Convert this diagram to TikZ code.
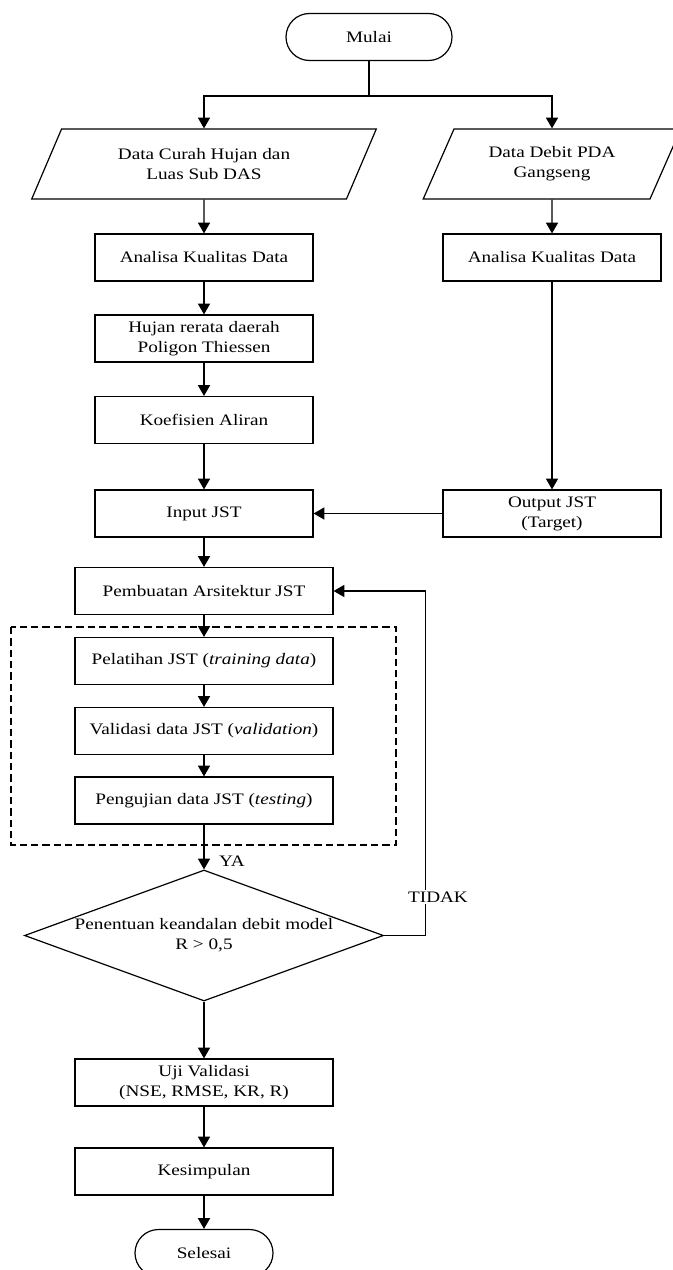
\documentclass[tikz,border=0pt]{standalone}
\usepackage{fontspec}
\setmainfont{Liberation Serif}[FakeStretch=1.2]
\usetikzlibrary{shapes.geometric,arrows.meta}

\begin{document}
\begin{tikzpicture}
  [x=0.75pt,y=-0.75pt,line width=0.9pt,>={Triangle[width=9pt,length=8pt]},
   every node/.style={font=\fontsize{12}{15}\selectfont,align=center}]

  \tikzstyle{proses} = [draw,rectangle,minimum width=163.5pt,minimum height=35.25pt,inner sep=0pt]
  \tikzstyle{lebar} = [proses,minimum width=193.5pt]
  \tikzstyle{terminal} = [draw,rectangle,rounded corners=17.6pt,minimum height=35.25pt,inner sep=0pt]
  \tikzstyle{io} = [draw,trapezium,trapezium left angle=60,trapezium right angle=120,
                    trapezium stretches=true,minimum height=52.5pt,inner sep=0pt]
  \tikzstyle{keputusan} = [draw,diamond,minimum width=269.25pt,minimum height=98.25pt,
                           inner xsep=-80pt,inner ysep=-10pt]

  \useasboundingbox (0,0) rectangle (672,1270);

  \node[terminal,minimum width=124.5pt] (mulai) at (369,37) {Mulai};
  \coordinate (cabang) at (369,96);
  \node[io,minimum width=258.75pt] (curah) at (204,164) {Data Curah Hujan dan\\Luas Sub DAS};
  \node[io,minimum width=193.5pt]  (debit) at (552,164) {Data Debit PDA\\Gangseng};
  \node[proses] (kualitas1) at (204,257.5) {Analisa Kualitas Data};
  \node[proses] (kualitas2) at (552,257.5) {Analisa Kualitas Data};
  \node[proses] (rerata) at (204,338.5) {Hujan rerata daerah\\Poligon Thiessen};
  \node[proses] (koef)   at (204,420) {Koefisien Aliran};
  \node[proses] (input)  at (204,513.5) {Input JST};
  \node[proses] (output) at (552,513.5) {Output JST\\(Target)};
  \node[lebar] (arsitektur) at (204,591) {Pembuatan Arsitektur JST};
  \node[lebar] (latih)    at (204,661) {Pelatihan JST (\textit{training data})};
  \node[lebar] (validasi) at (204,731) {Validasi data JST (\textit{validation})};
  \node[lebar] (uji)      at (204,800.5) {Pengujian data JST (\textit{testing})};
  \node[keputusan] (cek)  at (204,935.5) {Penentuan keandalan debit model\\R > 0,5};
  \node[lebar] (ujival)   at (204,1082.5) {Uji Validasi\\(NSE, RMSE, KR, R)};
  \node[lebar] (simpul)   at (204,1171.5) {Kesimpulan};
  \node[terminal,minimum width=103.5pt] (selesai) at (204,1253) {Selesai};

  % kotak proses JST
  \draw[dash pattern=on 5.5pt off 3pt] (11,627) rectangle (396,845);

  \draw (mulai) -- (cabang);
  \draw[->] (cabang) -| (curah);
  \draw[->] (cabang) -| (debit);

  \path[->]
        (curah) edge (kualitas1)
        (kualitas1) edge (rerata)
        (rerata) edge (koef)
        (koef) edge (input)
        (input) edge (arsitektur)
        (arsitektur) edge (latih)
        (latih) edge (validasi)
        (validasi) edge (uji)
        (uji) edge (cek)
        (cek) edge (ujival)
        (ujival) edge (simpul)
        (simpul) edge (selesai)
        (debit) edge (kualitas2)
        (kualitas2) edge (output)
        (output) edge (input);

  \draw[->] (cek.east) -- ++(41,0) |- (arsitektur.east);
  \node (ya) at (232,861) {YA};
  \node[fill=white,inner sep=1pt] (tidak) at (438,897) {TIDAK};
\end{tikzpicture}
\end{document}
